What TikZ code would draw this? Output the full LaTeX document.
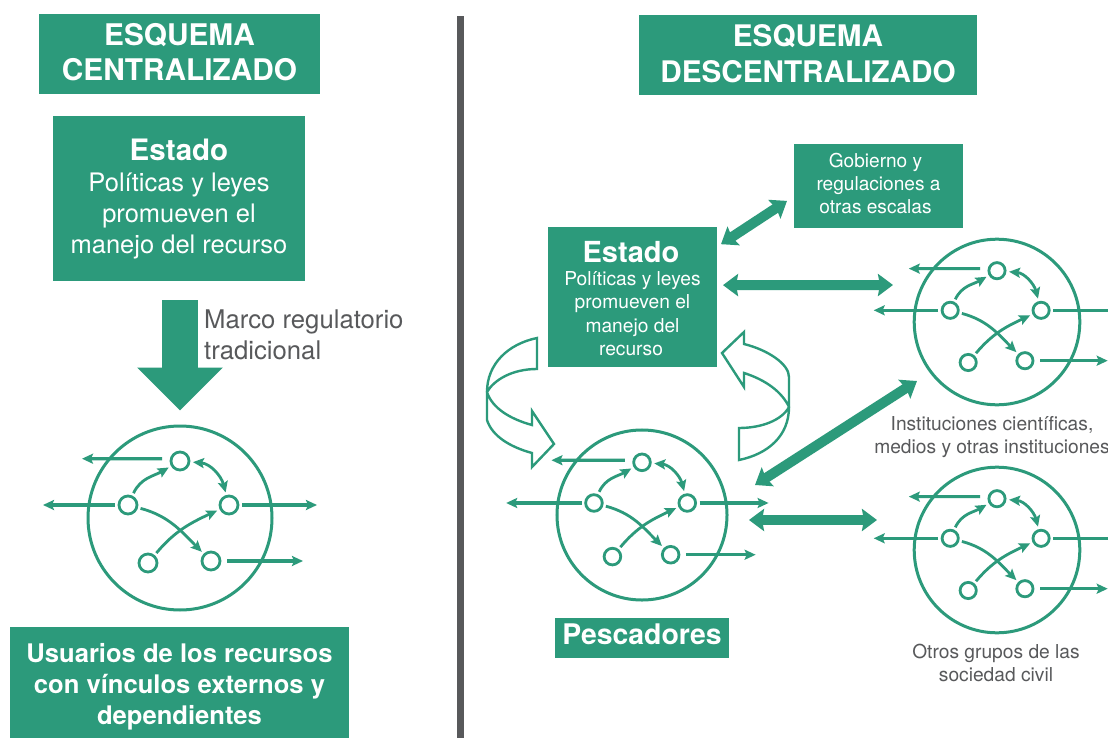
\documentclass[tikz,border=0pt]{standalone}
\usepackage{fontspec}
\setmainfont{TeX Gyre Heros}
\usetikzlibrary{arrows.meta}
\definecolor{verde}{HTML}{2C9A7B}
\definecolor{gris}{HTML}{58595B}
\newcommand{\fs}[2]{\fontsize{#1}{#2}\selectfont}
\newcommand{\tophold}[1]{\rule{0pt}{#1}}
\newcommand{\bothold}[1]{\rule[-#1]{0pt}{#1}}
\tikzset{
  box/.style={fill=verde,text=white,inner sep=0pt,outer sep=0pt,align=center},
  glabel/.style={text=gris,inner sep=0pt,align=center},
  bigc/.style={circle,draw=verde,line width=3pt,inner sep=0pt},
  smallc/.style={circle,draw=verde,line width=2.8pt,fill=white,inner sep=0pt,outer sep=4pt},
  linkc/.style={draw=verde,line width=2.8pt,-{Stealth[length=11pt,width=10pt,inset=2pt]}},
  linkd/.style={draw=verde,line width=2.8pt,{Stealth[length=11pt,width=10pt,inset=2pt]}-{Stealth[length=11pt,width=10pt,inset=2pt]}},
  linko/.style={draw=verde,line width=3.2pt,-{Stealth[length=11pt,width=10pt,inset=2pt]}},
  bigd/.style={draw=verde,line width=10pt,{Stealth[length=15pt,width=22pt,inset=2pt]}-{Stealth[length=15pt,width=22pt,inset=2pt]}},
  blockout/.style={draw=verde,line width=2.4pt,fill=white,line join=miter},
}
% prefix, cx, cy, scale, left tip offset
\newcommand{\netw}[5]{%
\begin{scope}[shift={(#2,#3)},x=#4pt,y=-#4pt]
  \node[bigc,minimum size=184*#4] (#1-c) at (0,0) {};
  \node[smallc,minimum size=18*#4] (#1-t) at (0,-57) {};
  \node[smallc,minimum size=18*#4] (#1-l) at (-52,-13) {};
  \node[smallc,minimum size=18*#4] (#1-r) at (49,-13) {};
  \node[smallc,minimum size=18*#4] (#1-a) at (-32,45) {};
  \node[smallc,minimum size=18*#4] (#1-b) at (31,43) {};
  \coordinate (#1-ot) at (-98,-59.3);
  \coordinate (#1-ol) at (#5,-13);
  \coordinate (#1-or) at (137,-13);
  \coordinate (#1-ob) at (123,43);
  \draw[linkc] (#1-l) to[out=65,in=210] (#1-t);
  \draw[linkd] (#1-t) to[out=-5,in=105] (#1-r);
  \draw[linkc] (#1-l) to[out=-15,in=135] (#1-b);
  \draw[linkc] (#1-a) to[out=50,in=205] (#1-r);
  \draw[linko] ([xshift=-5pt]#1-t.170) -- (#1-ot);
  \draw[linko] (#1-l) -- (#1-ol);
  \draw[linko] (#1-r) -- (#1-or);
  \draw[linko] ([xshift=3pt]#1-b.east) -- (#1-ob);
\end{scope}}
\begin{document}
\begin{tikzpicture}[x=1pt,y=-1pt]
\clip (0,0) rectangle (1108,738);
\fill[white] (0,0) rectangle (1108,738);
% divider
\fill[gris] (457,16) rectangle (464,738);
% title boxes
\node[box,minimum width=281pt,minimum height=80pt,font=\fs{29.8}{35}\bfseries] (t1) at (179.5,54) {ESQUEMA\\CENTRALIZADO\bothold{5pt}};
\node[box,minimum width=338pt,minimum height=80pt,font=\fs{29.7}{35.5}\bfseries] (t2) at (808,55) {ESQUEMA\\DESCENTRALIZADO\bothold{3pt}};
% left column
\node[box,minimum width=252pt,minimum height=165pt,font=\fs{25.5}{31}] (estL) at (179,198.5) {{\fs{29.5}{32}\bfseries\tophold{23pt}Estado}\\Políticas y leyes\\promueven el\\manejo del recurso};
\node[glabel,align=left,anchor=west,font=\fs{25.7}{31}] (marco) at (204,335) {Marco regulatorio\\tradicional};
\node[box,minimum width=339pt,minimum height=111pt,font=\fs{25.6}{31}\bfseries] (usu) at (179.5,682.5) {\tophold{27pt}Usuarios de los recursos\\con vínculos externos y\\dependientes};
\netw{L}{180}{518}{1}{-137}
\draw[draw=verde,line width=36pt,-{Triangle[length=43pt,width=83pt]}] ([yshift=-19pt]L-c.north |- estL.south) -- ([yshift=14pt]L-c.north);
% right column
\node[box,minimum width=169pt,minimum height=140pt,font=\fs{19.2}{23.3}] (estR) at (632.5,297) {{\fs{29}{30}\bfseries\tophold{24pt}Estado\hspace*{3pt}}\\Políticas y leyes\hspace*{3pt}\\promueven el\hspace*{3pt}\\manejo del\hspace*{3pt}\\recurso\hspace*{3pt}};
\node[box,minimum width=169pt,minimum height=84pt,font=\fs{19.1}{23}] (gob) at (878.5,186) {Gobierno y\hspace*{6pt}\\regulaciones a\hspace*{6pt}\\otras escalas\hspace*{6pt}\bothold{6pt}};
\node[box,minimum width=174pt,minimum height=40pt,font=\fs{28.4}{30}\bfseries] (pes) at (642,638) {Pescadores\bothold{8pt}};
\node[glabel,font=\fs{19.2}{23}] (inst) at (992,437) {Instituciones científicas,\\medios y otras instituciones};
\node[glabel,font=\fs{19.2}{23}] (otros) at (996,662.5) {Otros grupos de las\\sociedad civil};
\netw{M}{642}{515}{0.924}{-147}
\netw{A}{997}{322}{0.9}{-137}
\netw{B}{997}{550}{0.9}{-137}
% thick connectors
\coordinate (ca) at (893,285);
\coordinate (cb) at (755,485);
\coordinate (cc) at (917,381);
\coordinate (cd) at (749,520);
\coordinate (ce) at (877,520);
\draw[bigd] ([xshift=4pt]estR.32) -- ([xshift=-7pt]gob.190);
\draw[bigd] ([xshift=6pt]estR.8) -- (ca);
\draw[bigd] (cb) -- (cc);
\draw[bigd] (cd) -- (ce);
% curved block arrows
\draw[blockout] (537,338) .. controls (508,344) and (487,364) .. (487,392) -- (487,420)
  .. controls (492,436) and (510,447) .. (532,453) -- (532,467) -- (554,444) -- (532,411) -- (532,425)
  .. controls (510,419) and (492,408) .. (487,392)
  .. controls (494,380) and (512,369) .. (537,369) -- cycle;
\draw[blockout] (722,353) -- (744,332) -- (744,344)
  .. controls (768,350) and (789,364) .. (789,377) -- (789,407)
  .. controls (789,436) and (768,454) .. (739,460) -- (739,428)
  .. controls (762,428) and (782,420) .. (789,407)
  .. controls (782,392) and (766,380) .. (744,373) -- (744,387) -- cycle;
\end{tikzpicture}
\end{document}
